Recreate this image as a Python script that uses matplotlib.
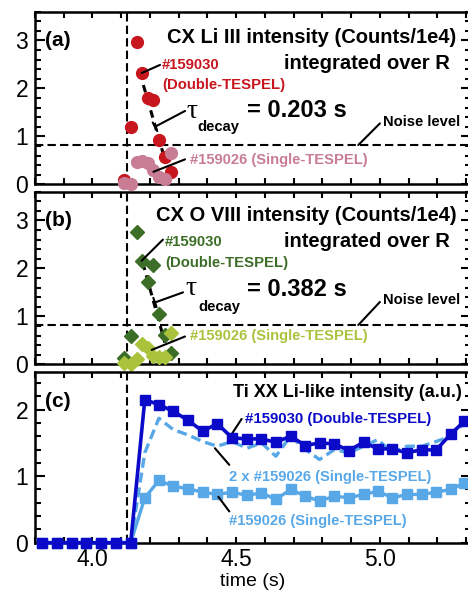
import numpy as np
import matplotlib.pyplot as plt
from matplotlib.ticker import MultipleLocator

plt.rcParams['font.family'] = ['Liberation Sans', 'DejaVu Sans']

# CX signals (a: Li III, b: O VIII), counts/1e4 integrated over R
t_cx = [4.110, 4.133, 4.154, 4.171, 4.192, 4.210, 4.232, 4.252, 4.272]
li_double = [0.10, 1.20, 2.96, 2.32, 1.81, 1.76, 0.92, 0.56, 0.26]
li_single = [0.02, 0.00, 0.46, 0.48, 0.45, 0.30, 0.15, 0.12, 0.65]
o_double = [0.14, 0.60, 2.75, 2.16, 1.72, 2.07, 1.05, 0.62, 0.24]
o_single = [0.03, 0.01, 0.12, 0.42, 0.33, 0.17, 0.16, 0.16, 0.66]

# decay fits (dashed)
li_fit_t = [4.177, 4.248]
li_fit_y = [2.07, 0.60]
o_fit_t = [4.175, 4.252]
o_fit_y = [2.12, 0.45]

noise_level = 0.82
t_pellet = 4.12

# Ti XX Li-like intensity (a.u.)
t_ti = [3.823, 3.876, 3.927, 3.978, 4.029, 4.081, 4.133, 4.182, 4.231, 4.281,
        4.332, 4.384, 4.434, 4.486, 4.538, 4.588, 4.638, 4.689, 4.741, 4.790,
        4.842, 4.892, 4.943, 4.993, 5.043, 5.094, 5.146, 5.195, 5.247, 5.294]
ti_double = [0, 0, 0, 0, 0, 0, 0, 2.15, 2.075, 1.975,
             1.84, 1.675, 1.79, 1.575, 1.56, 1.56, 1.51, 1.60, 1.46, 1.50,
             1.485, 1.385, 1.51, 1.41, 1.41, 1.35, 1.40, 1.39, 1.635, 1.825]
ti_single = [0, 0, 0, 0, 0, 0, 0, 0.675, 0.935, 0.85,
             0.81, 0.76, 0.725, 0.76, 0.71, 0.75, 0.65, 0.80, 0.70, 0.625,
             0.70, 0.675, 0.725, 0.775, 0.675, 0.725, 0.725, 0.76, 0.80, 0.90]

red = '#C8161E'
pink = '#C97D95'
dgreen = '#3D6E27'
lgreen = '#A9C43C'
dblue = '#0A0AC8'
lblue = '#58A8E8'

W, H = 468., 590.
fig = plt.figure(figsize=(W/100, H/100), dpi=100)
L, R = 35/W, 471/W
ax_a = fig.add_axes([L, 1-184.3/H, R-L, (184.3-11.7)/H])
ax_b = fig.add_axes([L, 1-364.3/H, R-L, (364.3-191.7)/H])
ax_c = fig.add_axes([L, 1-542.7/H, R-L, (542.7-371.7)/H])


def style(ax, ymax, xlabels=False):
    ax.set_xlim(3.8, 5.317)
    ax.set_ylim(0, ymax)
    ax.xaxis.set_major_locator(MultipleLocator(0.5))
    ax.xaxis.set_minor_locator(MultipleLocator(0.1))
    ax.yaxis.set_major_locator(MultipleLocator(1))
    ax.yaxis.set_minor_locator(MultipleLocator(0.2))
    ax.tick_params(which='both', direction='in', top=True, right=True,
                   width=1.5, labelsize=16.5)
    ax.tick_params(axis='y', which='major', length=7, pad=5)
    ax.tick_params(axis='y', which='minor', length=4.5)
    ax.tick_params(axis='x', which='both', length=4.5, pad=4)
    if not xlabels:
        ax.tick_params(labelbottom=False)
    for s in ax.spines.values():
        s.set_linewidth(1.8)


def line(ax, p0, p1, style='-'):
    ax.annotate('', xy=p0, xytext=p1,
                arrowprops=dict(arrowstyle=style, color='k', lw=1.5,
                                shrinkA=0, shrinkB=0))


bold = dict(fontweight='bold', va='center')
dash = (0, (4, 2))

# ---- (a) CX Li III
ax = ax_a
style(ax, 3.6)
ax.axvline(t_pellet, color='k', lw=1.5, ls=dash)
ax.axhline(noise_level, color='k', lw=1.5, ls=dash)
ax.plot(li_fit_t, li_fit_y, color='k', lw=2.2, ls=(0, (2.5, 1.8)))
ax.plot(t_cx, li_double, 'o', color=red, ms=8.5, clip_on=False, zorder=3)
ax.plot(t_cx, li_single, 'o', color=pink, ms=8.5, clip_on=False, zorder=3)
ax.text(3.835, 3.0, '(a)', fontsize=15, **bold)
ax.text(5.267, 3.07, 'CX Li III intensity (Counts/1e4)', ha='right', fontsize=14.5, **bold)
ax.text(5.244, 2.52, 'integrated over R', ha='right', fontsize=14.5, **bold)
ax.text(4.241, 2.49, '#159030', color=red, fontsize=10.7, **bold)
ax.text(4.244, 2.07, '(Double-TESPEL)', color=red, fontsize=10.7, **bold)
line(ax, (t_cx[3], li_double[3]), (4.235, 2.49))
ax.text(4.326, 1.52, '\u03c4', family='Liberation Serif', fontsize=20, va='center')
ax.text(4.364, 1.19, 'decay', fontsize=10.6, **bold)
ax.text(4.539, 1.54, '= 0.203 s', fontsize=17, **bold)
line(ax, (4.2175, 1.20), (4.322, 1.53), '-[, widthB=0.35, lengthB=0')
ax.text(5.012, 1.29, 'Noise level', fontsize=10.6, **bold)
line(ax, (4.925, noise_level), (5.0, 1.27))
ax.text(4.339, 0.51, '#159026 (Single-TESPEL)', color=pink, fontsize=10.6, **bold)
line(ax, (4.212, 0.26), (4.322, 0.52))

# ---- (b) CX O VIII
ax = ax_b
style(ax, 3.6)
ax.axvline(t_pellet, color='k', lw=1.5, ls=dash)
ax.axhline(noise_level, color='k', lw=1.5, ls=dash)
ax.plot(o_fit_t, o_fit_y, color='k', lw=2.2, ls=(0, (2.5, 1.8)))
ax.plot(t_cx, o_double, 'D', color=dgreen, ms=7, clip_on=False, zorder=3)
ax.plot(t_cx, o_single, 'D', color=lgreen, ms=7.5, clip_on=False, zorder=3)
ax.text(3.835, 3.0, '(b)', fontsize=15, **bold)
ax.text(5.267, 3.1, 'CX O VIII intensity (Counts/1e4)', ha='right', fontsize=14.5, **bold)
ax.text(5.244, 2.57, 'integrated over R', ha='right', fontsize=14.5, **bold)
ax.text(4.252, 2.56, '#159030', color=dgreen, fontsize=10.7, **bold)
ax.text(4.252, 2.11, '(Double-TESPEL)', color=dgreen, fontsize=10.7, **bold)
line(ax, (t_cx[3], o_double[3]), (4.245, 2.6))
ax.text(4.322, 1.59, '\u03c4', family='Liberation Serif', fontsize=20, va='center')
ax.text(4.368, 1.20, 'decay', fontsize=10.6, **bold)
ax.text(4.539, 1.57, '= 0.382 s', fontsize=17, **bold)
line(ax, (4.2175, 1.29), (4.315, 1.50), '-[, widthB=0.35, lengthB=0')
ax.text(5.012, 1.34, 'Noise level', fontsize=10.6, **bold)
line(ax, (4.925, noise_level), (5.0, 1.30))
ax.text(4.339, 0.58, '#159026 (Single-TESPEL)', color=lgreen, fontsize=10.6, **bold)
line(ax, (4.206, 0.30), (4.322, 0.58))

# ---- (c) Ti XX
ax = ax_c
style(ax, 2.57, xlabels=True)
ax.axvline(t_pellet, color='k', lw=1.5, ls=dash)
ax.plot(t_ti, 2*np.array(ti_single), color=lblue, lw=2.4, ls=(0, (3, 1.5)))
ax.plot(t_ti, ti_single, 's-', color=lblue, lw=2.4, ms=7, clip_on=False, zorder=3)
ax.plot(t_ti, ti_double, 's-', color=dblue, lw=2.6, ms=7, clip_on=False, zorder=4)
ax.text(3.835, 2.12, '(c)', fontsize=15, **bold)
ax.text(5.286, 2.25, 'Ti XX Li-like intensity (a.u.)', ha='right', fontsize=13, **bold)
ax.text(4.531, 1.86, '#159030 (Double-TESPEL)', color=dblue, fontsize=10.8, **bold)
line(ax, (4.478, 1.59), (4.519, 1.86))
ax.text(4.475, 0.99, '2 x #159026 (Single-TESPEL)', color=lblue, fontsize=10.6, **bold)
line(ax, (4.426, 1.42), (4.476, 1.17))
ax.text(4.475, 0.32, '#159026 (Single-TESPEL)', color=lblue, fontsize=10.6, **bold)
line(ax, (4.438, 0.69), (4.476, 0.47))
ax.set_xlabel('time (s)', fontsize=14, labelpad=1)

fig.savefig('out.png', dpi=100)
